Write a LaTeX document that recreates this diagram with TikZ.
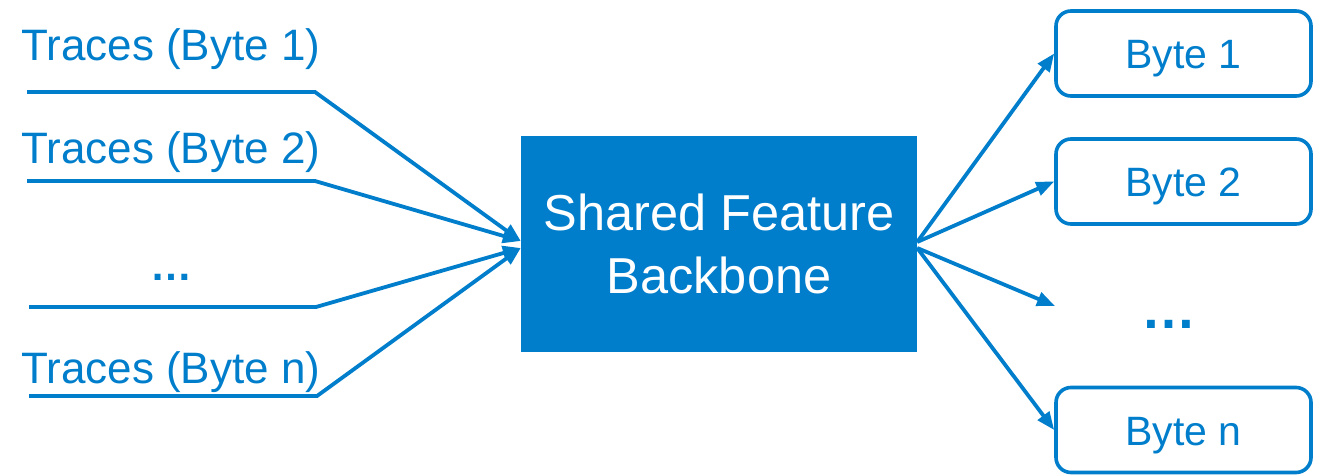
\documentclass[tikz,border=0pt]{standalone}
\usepackage{fontspec}
\setmainfont{Liberation Sans}
\usetikzlibrary{arrows.meta}
\definecolor{bblue}{RGB}{0,126,204}
\tikzset{
  lbl/.style={text=bblue, inner sep=0pt, font=\fontsize{44}{50}\selectfont},
  dotlbl/.style={text=bblue, inner sep=0pt, anchor=base},
  wire/.style={draw=bblue, line width=3.8pt, line join=miter},
  arr/.style={wire, -{Triangle[length=18pt, width=14pt]}},
  outbox/.style={draw=bblue, line width=3.6pt, rounded corners=15pt,
    minimum width=255pt, minimum height=85pt, inner sep=0pt, text=bblue,
    text height=30pt, text depth=0pt, font=\fontsize{41}{48}\selectfont},
}
\begin{document}
\begin{tikzpicture}[x=1pt, y=-1pt]
\useasboundingbox (0,0) rectangle (1322,476);

% backbone block
\node[fill=bblue, minimum width=396pt, minimum height=216pt, inner sep=0pt,
      text=white, align=center, font=\fontsize{50.5}{63}\selectfont]
      (bb) at (719,244) {Shared Feature\\Backbone};

% input trace labels
\node[lbl, anchor=base west] (t1) at (21,61) {Traces (Byte 1)};
\node[lbl, anchor=base west] (t2) at (21,164) {Traces (Byte 2)};
\node[dotlbl, font=\bfseries\fontsize{42}{50}\selectfont] (td) at (171,280) {…};
\node[lbl, anchor=base west] (tn) at (21,383) {Traces (Byte n)};

% input lines
\coordinate (s1) at (27,92);  \coordinate (k1) at (315,92);
\coordinate (s2) at (27,181); \coordinate (k2) at (315,181);
\coordinate (s3) at (29,307); \coordinate (k3) at (316,307);
\coordinate (s4) at (29,396); \coordinate (k4) at (317,396);
\draw[arr] (s1) -- (k1) -- ([yshift=3pt]bb.west);
\draw[arr] (s2) -- (k2) -- ([yshift=3pt]bb.west);
\draw[arr] (s3) -- (k3) -- ([yshift=-4pt]bb.west);
\draw[arr] (s4) -- (k4) -- ([yshift=-4pt]bb.west);

% output heads
\node[outbox] (r1) at (1183.5,53.5) {Byte 1};
\node[outbox] (r2) at (1183.5,181.5) {Byte 2};
\node[dotlbl, font=\bfseries\fontsize{55}{60}\selectfont] (rd) at (1169,328) {…};
\node[outbox] (rn) at (1183.5,430) {Byte n};
\coordinate (e3) at (1055,306);

\draw[arr] ([yshift=2pt]bb.east) -- (r1.west);
\draw[arr] ([yshift=2pt]bb.east) -- (r2.west);
\draw[arr] ([yshift=-4pt]bb.east) -- (e3);
\draw[arr] ([yshift=-4pt]bb.east) -- (rn.west);
\end{tikzpicture}
\end{document}
